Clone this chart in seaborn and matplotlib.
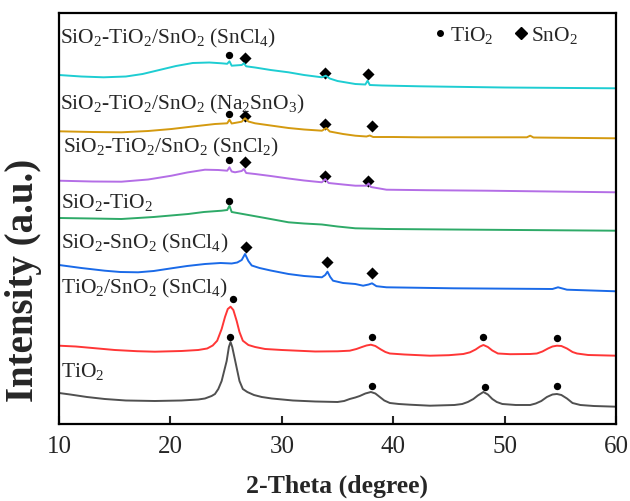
import numpy as np
import pandas as pd
import matplotlib.pyplot as plt
import seaborn as sns
from matplotlib.lines import Line2D

sns.set_style("ticks")
plt.rcParams["font.family"] = ["Liberation Serif", "DejaVu Serif"]
plt.rcParams["mathtext.fontset"] = "custom"
plt.rcParams["mathtext.rm"] = "Liberation Serif"
plt.rcParams["mathtext.it"] = "Liberation Serif:italic"
plt.rcParams["mathtext.bf"] = "Liberation Serif:bold"

# XRD patterns (2-theta in degree, intensity in a.u. incl. offset)
tio2_x = [10.0, 11.0, 12.5, 14.1, 16.0, 18.6, 21.0, 22.5, 23.1, 23.7, 24.0, 24.3, 24.6, 25.05, 25.25,
          25.4, 25.55, 25.8, 26.2, 26.5, 26.9, 27.5, 28.2, 29.1, 31.0, 33.0, 35.0, 35.6, 36.1, 36.6,
          37.0, 37.5, 38.0, 38.4, 38.8, 39.2, 39.7, 40.5, 41.5, 43.3, 45.5, 46.2, 46.7, 47.2, 47.6,
          48.1, 48.5, 48.9, 49.3, 49.8, 51.0, 52.3, 52.8, 53.3, 53.8, 54.3, 54.7, 55.1, 55.6, 56.1,
          56.8, 58.0, 60.0]
tio2_y = [31, 29.5, 27, 25, 23.5, 23, 23.5, 24.5, 25.5, 28, 30, 35, 43, 63, 77,
          82, 77, 64, 43, 35, 32, 29, 27, 25.5, 23.5, 22.5, 22, 23, 25, 26.5,
          28, 30.5, 32, 30.5, 27, 23.5, 21, 20, 19.3, 18.3, 19, 20, 22, 25, 28.5,
          32, 29.5, 25, 22, 20, 19, 19, 20.5, 23, 27, 29.5, 30, 29, 25.5, 21,
          19, 18, 17.3]

tsn_x = [10.0, 11.5, 13.0, 15.0, 17.0, 18.6, 21.0, 22.5, 23.3, 23.8, 24.2, 24.6, 24.9, 25.15, 25.4,
         25.65, 25.95, 26.2, 26.5, 27.0, 27.6, 28.5, 30.0, 33.0, 35.0, 36.1, 36.7, 37.2, 37.6, 38.0,
         38.4, 38.9, 39.3, 39.7, 41.0, 43.3, 45.0, 46.3, 46.9, 47.4, 47.8, 48.1, 48.5, 48.9, 49.4,
         50.5, 52.3, 52.9, 53.4, 53.9, 54.3, 54.7, 55.1, 55.6, 56.1, 56.5, 57.5, 60.0]
tsn_y = [78.3, 77.5, 76, 74, 72.8, 72.3, 73, 74, 75.5, 78.5, 83.3, 95, 107, 115, 117.3,
         114, 103, 92, 83.3, 79, 77, 75, 74, 72.5, 72.7, 73.3, 75, 77, 78.5, 79.3,
         78, 74.5, 72, 70.5, 69.5, 68.3, 68.8, 70, 71.7, 74.5, 77.5, 79, 77, 73.5, 70.5,
         69.8, 70, 70.5, 72.5, 75.5, 77.5, 78.3, 78, 75.5, 72, 70.5, 69, 68.3]

ssn_x = [10.0, 12.0, 14.1, 15.5, 17.1, 18.5, 20.1, 21.5, 23.1, 24.5, 25.5, 26.0, 26.4, 26.7, 27.0,
         27.3, 28.0, 29.0, 30.6, 32.0, 33.6, 33.9, 34.1, 34.35, 34.6, 35.5, 36.6, 37.3, 37.8, 38.1,
         38.5, 39.4, 45.4, 54.3, 54.8, 55.6, 60.0]
ssn_y = [159, 156, 153.3, 152, 151.7, 153, 155.7, 158, 160, 161, 160.5, 161.5, 164, 170, 163,
         158.5, 156, 153.5, 150, 148, 146.7, 149, 152.3, 147, 143.3, 141, 140, 138.3, 139.5, 140.7,
         137.8, 136.7, 135.7, 135, 136.7, 134.3, 132.7]

st_x = [10.0, 13.0, 15.6, 18.5, 21.6, 23.0, 24.6, 25.1, 25.3, 25.5, 26.5, 28.5, 30.6, 32.0, 33.6,
        35.0, 36.6, 39.4, 45.0, 60.0]
st_y = [206, 205.5, 205, 207, 210, 212, 213.3, 214, 218.3, 212, 210, 206, 201.7, 200.5, 199.5,
        197.5, 195.7, 195, 194.5, 193.3]

cl2_x = [10.0, 13.0, 15.6, 18.0, 20.1, 21.5, 23.1, 24.3, 25.1, 25.3, 25.5, 25.8, 26.4, 26.6, 26.8,
         27.6, 29.0, 30.6, 32.0, 33.6, 33.9, 34.2, 35.5, 36.6, 37.6, 37.8, 38.0, 39.4, 43.0, 48.4,
         60.0]
cl2_y = [243.3, 242.5, 242.3, 244.5, 248.3, 251.5, 254.3, 254, 253.3, 256.7, 252.5, 251.7, 253, 255, 251,
         250, 248, 245.5, 243.5, 241.7, 245, 241, 239.5, 238.3, 238.3, 240.5, 237, 234.3, 233.8, 233.3,
         231.7]

na_x = [10.0, 13.0, 15.6, 18.0, 20.1, 22.0, 24.0, 25.1, 25.3, 25.5, 26.4, 26.7, 27.0, 27.6, 29.0,
        30.6, 32.0, 33.6, 34.0, 34.3, 35.5, 36.6, 37.6, 37.9, 38.2, 40.0, 42.4, 52.0, 52.3, 52.6,
        60.0]
na_y = [292.7, 292, 291.7, 293, 295, 297.5, 300, 300.7, 304.3, 300.5, 302.3, 305.7, 302.5, 300.7, 298.5,
        296, 294.5, 293.3, 296, 292.5, 290, 288.3, 287.5, 288.5, 287, 287, 286.7, 286.7, 288.3, 286.5,
        285.7]

cl4_x = [10.0, 12.0, 14.0, 16.0, 17.5, 19.0, 20.5, 22.0, 23.5, 24.6, 25.1, 25.3, 25.5, 26.4, 26.6,
         26.8, 27.6, 29.0, 30.6, 32.0, 33.6, 33.95, 34.3, 35.0, 36.6, 37.5, 37.7, 37.9, 39.0, 42.4,
         50.0, 60.0]
cl4_y = [349, 347.5, 346.7, 347.5, 350, 354, 358, 361, 361.5, 360.7, 360.2, 362.7, 358.3, 359, 360.7,
         357.7, 356.5, 354, 351.7, 349, 346.7, 348.3, 345.5, 343, 340, 339.5, 343.3, 339, 338.5, 337.7,
         336.5, 335.7]

samples = ["TiO$_2$", "TiO$_2$/SnO$_2$ (SnCl$_4$)", "SiO$_2$-SnO$_2$ (SnCl$_4$)", "SiO$_2$-TiO$_2$",
           "SiO$_2$-TiO$_2$/SnO$_2$ (SnCl$_2$)", "SiO$_2$-TiO$_2$/SnO$_2$ (Na$_2$SnO$_3$)",
           "SiO$_2$-TiO$_2$/SnO$_2$ (SnCl$_4$)"]
xs = [tio2_x, tsn_x, ssn_x, st_x, cl2_x, na_x, cl4_x]
ys = [tio2_y, tsn_y, ssn_y, st_y, cl2_y, na_y, cl4_y]
colors = ["#505050", "#ff3636", "#1a6ae8", "#2eaa68", "#b46ee6", "#d49a10", "#1ecdd2"]
# label anchor (baseline) per sample
label_x = [10.2, 10.2, 10.2, 10.2, 10.4, 10.1, 10.1]
label_y = [48, 132, 177, 217, 273, 316, 382]

# peak markers
tio2_px = [25.26, 25.26, 25.26, 25.3, 25.6, 38.1, 48.06, 54.75, 25.35, 38.1, 48.24, 54.7]
tio2_py = [369, 310, 264, 223.5, 124.5, 86.7, 86.7, 85.7, 86.7, 38.3, 36.7, 37.5]
sno2_px = [26.7, 33.88, 37.74, 26.7, 33.88, 38.1, 26.7, 33.88, 37.74, 26.79, 34.03, 38.12]
sno2_py = [365.7, 351, 349.7, 308.3, 300, 297.7, 261.7, 247.7, 243.3, 176.7, 162.3, 151]

df = pd.concat([pd.DataFrame({"two_theta": x, "intensity": y, "sample": s})
                for x, y, s in zip(xs, ys, samples)], ignore_index=True)

fig = plt.figure(figsize=(6.3, 5.02), dpi=100)
ax = fig.add_axes([0.0937, 0.1534, 0.884, 0.8187])

sns.lineplot(data=df, x="two_theta", y="intensity", hue="sample", hue_order=samples,
             palette=colors, sort=False, estimator=None, lw=1.4, legend=False, ax=ax)
sns.scatterplot(x=tio2_px, y=tio2_py, marker="o", color="k", s=28, linewidth=0, ax=ax)
sns.scatterplot(x=sno2_px, y=sno2_py, marker="D", color="k", s=38, linewidth=0, ax=ax)

for s, lx, ly in zip(samples, label_x, label_y):
    ax.text(lx, ly, s, fontsize=15.5, va="baseline", ha="left")

handles = [Line2D([], [], marker="o", color="k", ls="", ms=4),
           Line2D([], [], marker="D", color="k", ls="", ms=6)]
ax.legend(handles, ["TiO$_2$", "SnO$_2$"], loc="upper right", bbox_to_anchor=(0.967, 1.02),
          ncol=2, frameon=False, fontsize=15.5, handlelength=0.6, handletextpad=0.15,
          columnspacing=1.0)

ax.set_xlim(10, 60)
ax.set_ylim(0, 411)
ax.set_xticks([10, 20, 30, 40, 50, 60])
ax.set_yticks([])
ax.tick_params(axis="x", direction="in", length=5.5, width=1.5, labelsize=18, pad=8)
for sp in ax.spines.values():
    sp.set_linewidth(1.6)
    sp.set_color("black")

ax.set_xlabel("2-Theta (degree)", fontsize=18.5, fontweight="bold")
ax.xaxis.set_label_coords(0.5, -0.12)
ax.set_ylabel("Intensity (a.u.)", fontsize=28, fontweight="bold")
ax.yaxis.set_label_coords(-0.03, 0.353)

fig.savefig("out.png", dpi=100)
